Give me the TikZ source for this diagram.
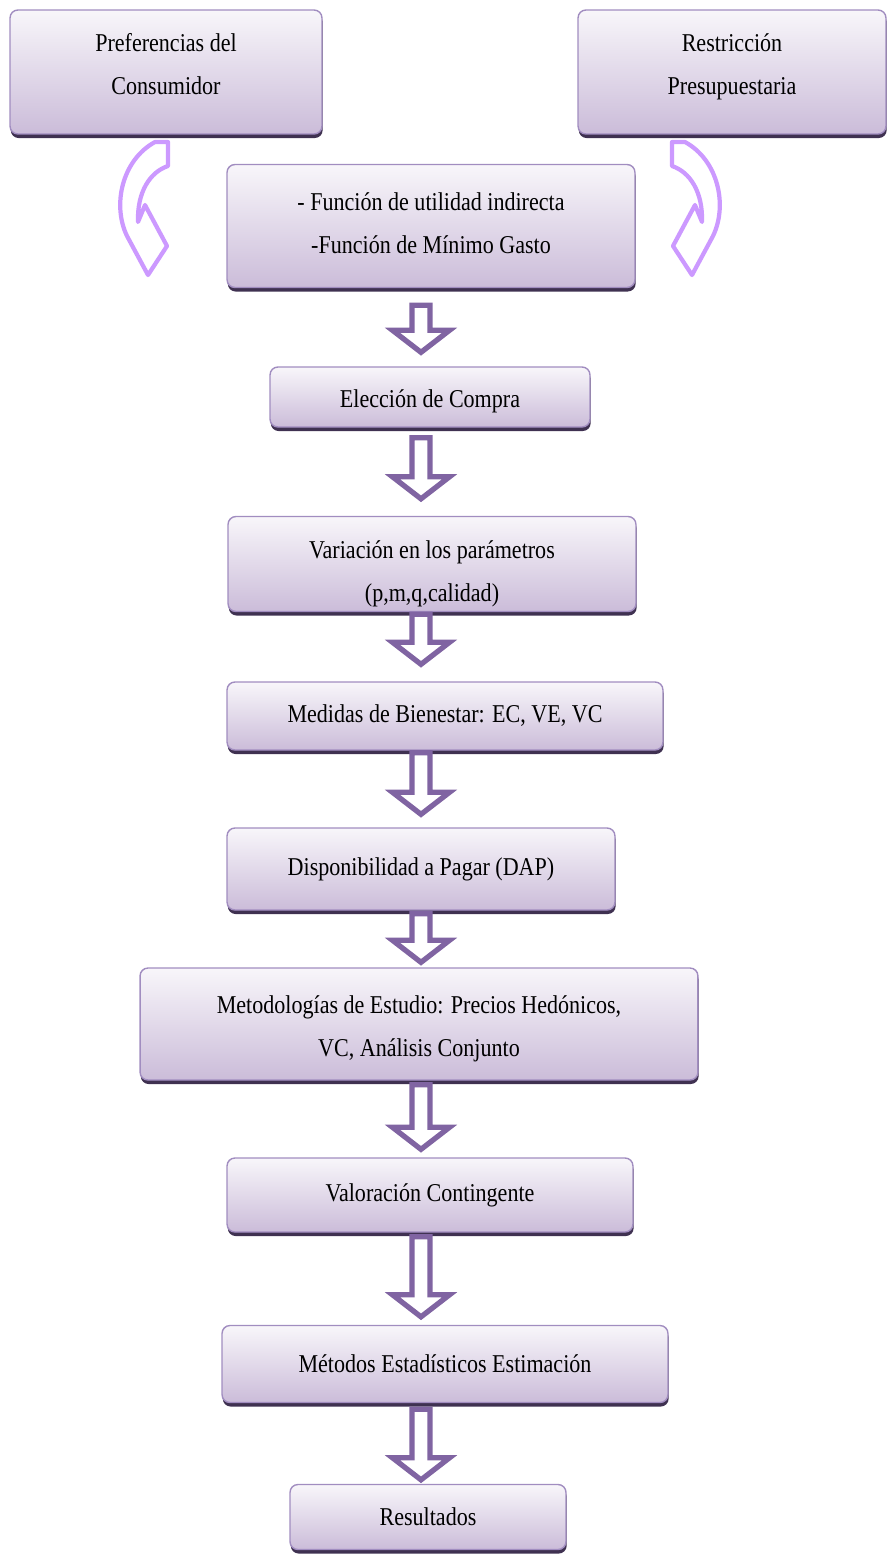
\documentclass[tikz,border=0pt]{standalone}
\usepackage{fontspec}
\setmainfont{Liberation Serif}[FakeStretch=0.86]
\usetikzlibrary{calc,shadows}

\definecolor{boxtop}{HTML}{F8F6FA}
\definecolor{boxbot}{HTML}{CBBCD9}
\definecolor{boxline}{HTML}{A18DC0}
\definecolor{boxshadow}{HTML}{3F3151}
\definecolor{arrowline}{HTML}{8064A2}
\definecolor{curveline}{HTML}{CC99FF}

\begin{document}
\begin{tikzpicture}[x=0.02cm, y=-0.02cm,
    box/.style={draw=boxline, line width=0.8pt, rounded corners=4.5pt, top color=boxtop, bottom color=boxbot,
        align=center, inner sep=2pt, font=\fontsize{14.6pt}{24.4pt}\selectfont,
        drop shadow={shadow xshift=0.4pt, shadow yshift=-2.3pt, opacity=1, fill=boxshadow}},
    blockarr/.style={draw=arrowline, line width=3pt, fill=white, line join=miter},
    curvarr/.style={draw=curveline, line width=2.4pt, fill=white, line join=round},
    curvedarrow/.pic={
        \draw[curvarr] (155,142) -- (168,142) -- (168,166)
            .. controls (150,172) and (137,192) .. (138,222) -- (145,205) -- (167,246) -- (148,275) -- (127,236)
            .. controls (112,205) and (122,160) .. (155,142) -- cycle;
    }
]
\useasboundingbox (0,0) rectangle (891,1563);
\coordinate (spine) at (421,0);

\node[box, minimum width=6.24cm, minimum height=2.48cm] (pref) at (166,72) {Preferencias del\\Consumidor\rule[-9.5pt]{0pt}{0pt}};
\node[box, minimum width=6.16cm, minimum height=2.48cm] (restr) at (732,72) {Restricción\\Presupuestaria\rule[-9.5pt]{0pt}{0pt}};
\node[box, minimum width=8.16cm, minimum height=2.46cm] (func) at (431,226) {- Función de utilidad indirecta\\-Función de Mínimo Gasto\rule[-3.4pt]{0pt}{0pt}};
\node[box, minimum width=6.4cm, minimum height=1.2cm] (elec) at (430,397) {\rule{0pt}{15pt}Elección de Compra};
\node[box, minimum width=8.16cm, minimum height=1.9cm] (vari) at (432,564) {\rule{0pt}{21pt}Variación en los parámetros\\(p,m,q,calidad)};
\node[box, minimum width=8.72cm, minimum height=1.36cm] (bien) at (445,716) {Medidas de Bienestar: EC, VE, VC};
\node[box, minimum width=7.76cm, minimum height=1.64cm] (dap) at (421,869) {Disponibilidad a Pagar (DAP)};
\node[box, minimum width=11.16cm, minimum height=2.24cm] (metod) at (419,1024) {\rule{0pt}{16pt}Metodologías de Estudio: Precios Hedónicos,\\VC, Análisis Conjunto};
\node[box, minimum width=8.12cm, minimum height=1.48cm] (valor) at (430,1195) {Valoración Contingente};
\node[box, minimum width=8.92cm, minimum height=1.54cm] (estad) at (445,1364) {Métodos Estadísticos Estimación};
\node[box, minimum width=5.52cm, minimum height=1.3cm] (result) at (428,1517) {Resultados};

% curved arrows from the two top boxes
\pic at (0,0) {curvedarrow};
\pic[xscale=-1] at (840,0) {curvedarrow};

% block arrows down the middle
\foreach \a/\b/\g/\h in {func/elec/17/14, elec/vari/10/17, vari/bien/2/17, bien/dap/2/13,
        dap/metod/3/5, metod/valor/4/8, valor/estad/4/8, estad/result/6/4}
    \draw[blockarr] ($(\a.south -| spine)+(-9,\g)$) -- ($(\b.north -| spine)+(-9,-\h-22)$)
        -- ($(\b.north -| spine)+(-28.5,-\h-22)$) -- ($(\b.north -| spine)+(0,-\h)$)
        -- ($(\b.north -| spine)+(28.5,-\h-22)$) -- ($(\b.north -| spine)+(9,-\h-22)$)
        -- ($(\a.south -| spine)+(9,\g)$) -- cycle;
\end{tikzpicture}
\end{document}
